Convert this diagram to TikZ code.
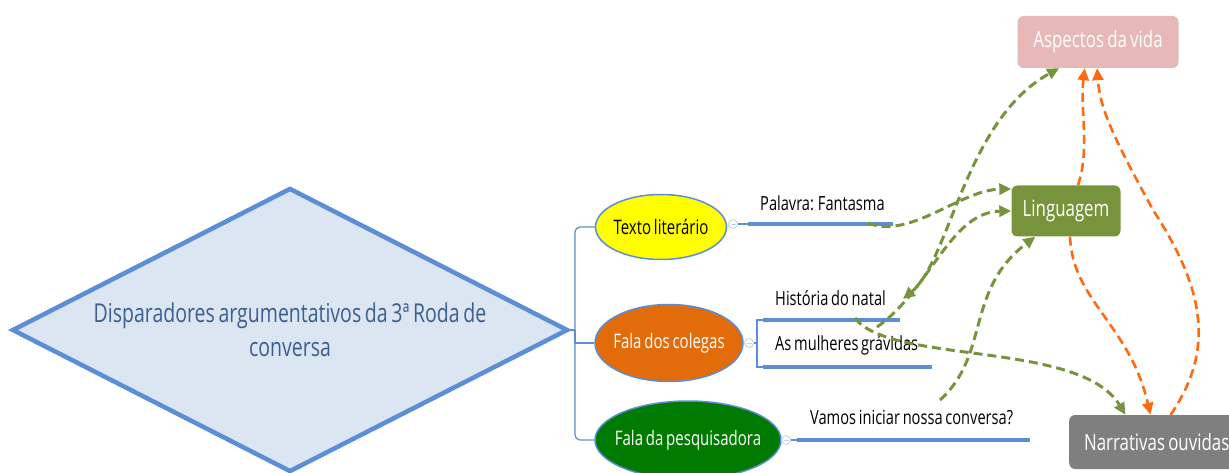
\documentclass[tikz,border=0pt]{standalone}
\usepackage{fontspec}
\setmainfont{Open Sans}[FakeStretch=0.75, WordSpace=0.72]
\usetikzlibrary{shapes.geometric,arrows.meta}

\definecolor{azul}{HTML}{5B8ED6}
\definecolor{fundo}{HTML}{DCE6F2}
\definecolor{tinta}{HTML}{3B5F8F}
\definecolor{verde}{HTML}{77933C}
\definecolor{laranja}{HTML}{FF6A10}
\definecolor{rosa}{HTML}{E6B9B8}
\definecolor{cinza}{HTML}{7F7F7F}
\definecolor{amarelo}{HTML}{FFFF00}
\definecolor{abobora}{HTML}{E36C0A}
\definecolor{mata}{HTML}{007A00}

\tikzset{
  ponta/.tip={Triangle[length=12pt,width=11pt]},
  ramo/.style={azul, line width=1.2pt},
  sublinha/.style={azul, line width=3.5pt},
  topico/.style={ellipse, draw=azul, line width=1.5pt, inner sep=0pt, font=\fontsize{20}{22}\selectfont},
  recolher/.style={circle, draw=azul!40, line width=0.8pt, minimum size=9pt, inner sep=0pt},
  rotulo/.style={anchor=west, font=\fontsize{19.5}{22}\selectfont, inner sep=0pt},
  caixa/.style={rounded corners=6pt, text=white, inner sep=0pt, font=\fontsize{22.5}{24}\selectfont},
  seta verde/.style={verde, line width=3pt, dash pattern=on 9pt off 5pt, -ponta},
  seta laranja/.style={laranja, line width=2.6pt, dash pattern=on 9pt off 5pt, -ponta},
}

\begin{document}
\begin{tikzpicture}[x=1pt,y=-1pt]
\useasboundingbox (0,0) rectangle (1229,473);
% tema central
\node[diamond, draw=azul, fill=fundo, line width=4.5pt, minimum width=556pt, minimum height=284pt,
  aspect=1.96, inner sep=0pt, align=center, text=tinta, font=\fontsize{26}{34}\selectfont]
  (tema) at (290,330) {Disparadores argumentativos da 3ª Roda de\\conversa};

% topicos
\node[topico, fill=amarelo, minimum width=131pt, minimum height=65pt] (texto) at (661,227) {\makebox[0pt]{Texto literário}};
\node[topico, fill=abobora, text=white, minimum width=148pt, minimum height=77pt] (colegas) at (669,343) {\makebox[0pt]{Fala dos colegas}};
\node[topico, fill=mata, text=white, minimum width=186pt, minimum height=78pt] (pesq) at (688,440) {\makebox[0pt]{Fala da pesquisadora}};

\coordinate (eixo) at (575,330);
\draw[ramo] (tema.east) -- (eixo);
\draw[ramo, rounded corners=5pt] (texto.west) -| (eixo) |- (pesq.west);
\draw[ramo] (eixo) |- (colegas.west);

% botoes de recolher
\node[recolher] (r1) at (733,224) {};
\node[recolher] (r2) at (749,343) {};
\node[recolher] (r3) at (786,440) {};
\foreach \r in {r1,r2,r3}
  \draw[azul!40, line width=0.8pt] ([xshift=-2.5pt]\r.center) -- ([xshift=2.5pt]\r.center);
\draw[azul!40, line width=0.8pt] (texto.east) -- (r1);
\draw[azul!40, line width=0.8pt] (colegas.east) -- (r2);
\draw[azul!40, line width=0.8pt] (pesq.east) -- (r3);

% sublinhas
\coordinate (p1) at (748,224);
\coordinate (p1b) at (893,224);
\coordinate (n1) at (763,320);
\coordinate (n1b) at (900,320);
\coordinate (m1) at (763,367);
\coordinate (m1b) at (932,367);
\coordinate (v1) at (797,440);
\coordinate (v1b) at (1030,440);
\draw[ramo] (r1) -- (p1);
\draw[sublinha] (p1) -- (p1b);
\draw[ramo] (r2) -- (757,343);
\draw[ramo] (n1) -| (757,343) |- (m1);
\draw[sublinha] (n1) -- (n1b);
\draw[sublinha] (m1) -- (m1b);
\draw[ramo] (r3) -- (v1);
\draw[sublinha] (v1) -- (v1b);

\node[rotulo] (palavra) at (760,203) {Palavra: Fantasma};
\node[rotulo] (natal) at (775,298) {História do natal};
\node[rotulo] (mulheres) at (775,345) {As mulheres grávidas};
\node[rotulo] (vamos) at (810,417) {Vamos iniciar nossa conversa?};

% categorias
\node[caixa, fill=verde, minimum width=109pt, minimum height=51pt] (ling) at (1066,211) {Linguagem};
\node[caixa, fill=rosa, minimum width=161pt, minimum height=52pt] (vida) at (1098,42) {Aspectos da vida};
\node[caixa, fill=cinza, anchor=west, minimum width=175pt, minimum height=54pt] (narr) at (1069,442) {Narrativas ouvidas};

% setas verdes
\coordinate (s1) at (868,223);
\coordinate (s2) at (877,327);
\coordinate (s3) at (903,299);
\coordinate (s4) at (855,318);
\coordinate (s5) at (940,400);
\draw[seta verde] (s1) .. controls (910,240) and (960,190) .. (ling.158);
\draw[seta verde] (s2) .. controls (930,290) and (950,212) .. (ling.180);
\draw[seta verde, ponta-ponta] (s3) .. controls (950,260) and (965,120) .. (vida.214);
\draw[seta verde] (s4) .. controls (890,365) and (1080,340) .. (narr.139);
\draw[seta verde] (s5) .. controls (990,355) and (965,290) .. (ling.220);

% setas laranja
\draw[seta laranja] (ling.65) .. controls (1090,150) and (1080,110) .. (vida.243);
\draw[seta laranja] (ling.279) .. controls (1072,300) and (1130,325) .. (narr.103);
\draw[seta laranja] (narr.63) .. controls (1215,350) and (1205,290) .. (1153,210)
  .. controls (1115,140) and (1100,110) .. (vida.268);
\end{tikzpicture}
\end{document}
